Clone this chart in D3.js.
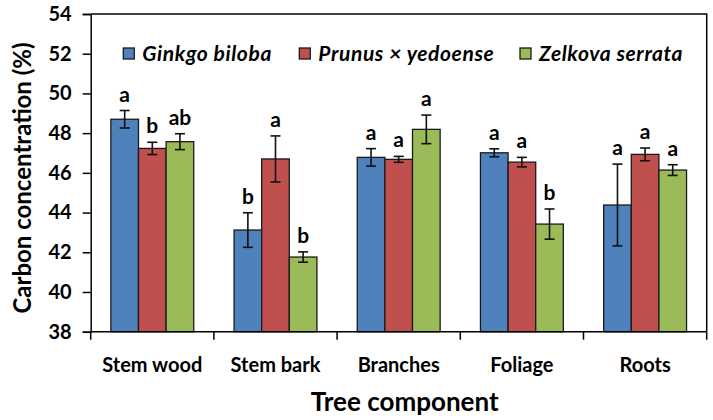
<!DOCTYPE html>
<html>
<head>
<meta charset="utf-8">
<script src="https://cdn.jsdelivr.net/npm/d3@7/dist/d3.min.js"></script>
<style>
  html, body { margin: 0; padding: 0; background: #fff; }
  text { font-family: Lato, "Open Sans", sans-serif; font-weight: 700; fill: #000; }
</style>
</head>
<body>
<svg id="chart" width="713" height="420"></svg>
<script>
const categories = ["Stem wood", "Stem bark", "Branches", "Foliage", "Roots"];
const series = ["Ginkgo biloba", "Prunus × yedoense", "Zelkova serrata"];
const ginkgoMean   = [48.70, 43.12, 46.78, 47.01, 44.38];
const ginkgoErr    = [0.44, 0.87, 0.44, 0.20, 2.06];
const ginkgoLetter = ["a", "b", "a", "a", "a"];
const prunusMean   = [47.23, 46.70, 46.68, 46.54, 46.93];
const prunusErr    = [0.31, 1.16, 0.15, 0.24, 0.32];
const prunusLetter = ["b", "a", "a", "a", "a"];
const zelkovaMean  = [47.57, 41.76, 48.19, 43.42, 46.14];
const zelkovaErr   = [0.40, 0.26, 0.72, 0.76, 0.27];
const zelkovaLetter= ["ab", "b", "a", "b", "a"];
const yTicks = [38, 40, 42, 44, 46, 48, 50, 52, 54];
const colors = ["#4F81BD", "#C0504D", "#9BBB59"];

const means = [ginkgoMean, prunusMean, zelkovaMean];
const errs = [ginkgoErr, prunusErr, zelkovaErr];
const letters = [ginkgoLetter, prunusLetter, zelkovaLetter];

const svg = d3.select("#chart");
const L = 90.7, R = 706.7, T = 14, B = 331.7;

const x0 = d3.scaleBand().domain(categories).range([L, R]).paddingInner(0).paddingOuter(0);
const x1 = d3.scaleBand().domain(series).range([0, x0.bandwidth()]).paddingOuter(0.73).paddingInner(0);
const y = d3.scaleLinear().domain([38, 54]).range([B, T]);

const data = [];
categories.forEach((c, i) => series.forEach((s, j) => {
  data.push({ c, s, j, v: means[j][i], e: errs[j][i], l: letters[j][i] });
}));

// plot frame (top and right)
svg.append("path")
  .attr("d", `M${L},${T}H${R}V${B}`)
  .attr("fill", "none").attr("stroke", "#000").attr("stroke-width", 1.5);

// bars
svg.append("g").selectAll("rect").data(data).join("rect")
  .attr("x", d => x0(d.c) + x1(d.s))
  .attr("y", d => y(d.v))
  .attr("width", x1.bandwidth())
  .attr("height", d => y(38) - y(d.v))
  .attr("fill", d => colors[d.j])
  .attr("stroke", "#1a1a1a").attr("stroke-width", 1.3);

// error bars
const eg = svg.append("g").attr("stroke", "#111").attr("stroke-width", 1.6);
data.forEach(d => {
  const cx = x0(d.c) + x1(d.s) + x1.bandwidth() / 2;
  const cw = 5;
  eg.append("line").attr("x1", cx).attr("x2", cx).attr("y1", y(d.v + d.e)).attr("y2", y(d.v - d.e));
  eg.append("line").attr("x1", cx - cw).attr("x2", cx + cw).attr("y1", y(d.v + d.e)).attr("y2", y(d.v + d.e));
  eg.append("line").attr("x1", cx - cw).attr("x2", cx + cw).attr("y1", y(d.v - d.e)).attr("y2", y(d.v - d.e));
});

// letters
svg.append("g").selectAll("text").data(data).join("text")
  .attr("x", d => x0(d.c) + x1(d.s) + x1.bandwidth() / 2)
  .attr("y", d => y(d.v + d.e) - 9)
  .attr("text-anchor", "middle")
  .style("font-size", "21px")
  .text(d => d.l);

// y axis
const yAxis = d3.axisLeft(y).tickValues(yTicks).tickSize(8).tickPadding(11).tickFormat(d3.format("d"));
const yg = svg.append("g").attr("transform", `translate(${L},0)`).call(yAxis);
yg.select(".domain").attr("stroke", "#000").attr("stroke-width", 1.5);
yg.selectAll(".tick line").attr("stroke", "#000").attr("stroke-width", 1.5);
yg.selectAll(".tick text").style("font-size", "20px").style("font-family", "Lato, sans-serif").style("font-weight", 700).attr("fill", "#000");

// x axis
const xg = svg.append("g").attr("transform", `translate(0,${B})`);
xg.append("line").attr("x1", L).attr("x2", R).attr("stroke", "#000").attr("stroke-width", 1.5);
const bounds = categories.map(c => x0(c)).concat([R]);
xg.selectAll("line.tk").data(bounds).join("line").attr("class", "tk")
  .attr("x1", d => d).attr("x2", d => d).attr("y1", 0).attr("y2", 8)
  .attr("stroke", "#000").attr("stroke-width", 1.5);
xg.selectAll("text").data(categories).join("text")
  .attr("x", d => x0(d) + x0.bandwidth() / 2)
  .attr("y", 40)
  .attr("text-anchor", "middle")
  .style("font-size", "20px")
  .text(d => d);

// axis titles
svg.append("text")
  .attr("transform", `translate(31,178) rotate(-90)`)
  .attr("text-anchor", "middle")
  .style("font-size", "24px")
  .text("Carbon concentration (%)");
svg.append("text")
  .attr("x", (L + R) / 2 + 6).attr("y", 411)
  .attr("text-anchor", "middle")
  .style("font-size", "26px")
  .text("Tree component");

// legend
const legX = [123.3, 299.3, 520];
const lg = svg.append("g");
series.forEach((s, j) => {
  lg.append("rect").attr("x", legX[j]).attr("y", 48).attr("width", 11).attr("height", 11)
    .attr("fill", colors[j]).attr("stroke", "#1a1a1a").attr("stroke-width", 1.3);
  lg.append("text").attr("x", legX[j] + 19).attr("y", 61)
    .style("font-size", "21px").style("font-style", "italic")
    .style("letter-spacing", "0.6px")
    .text(s);
});
</script>
</body>
</html>
